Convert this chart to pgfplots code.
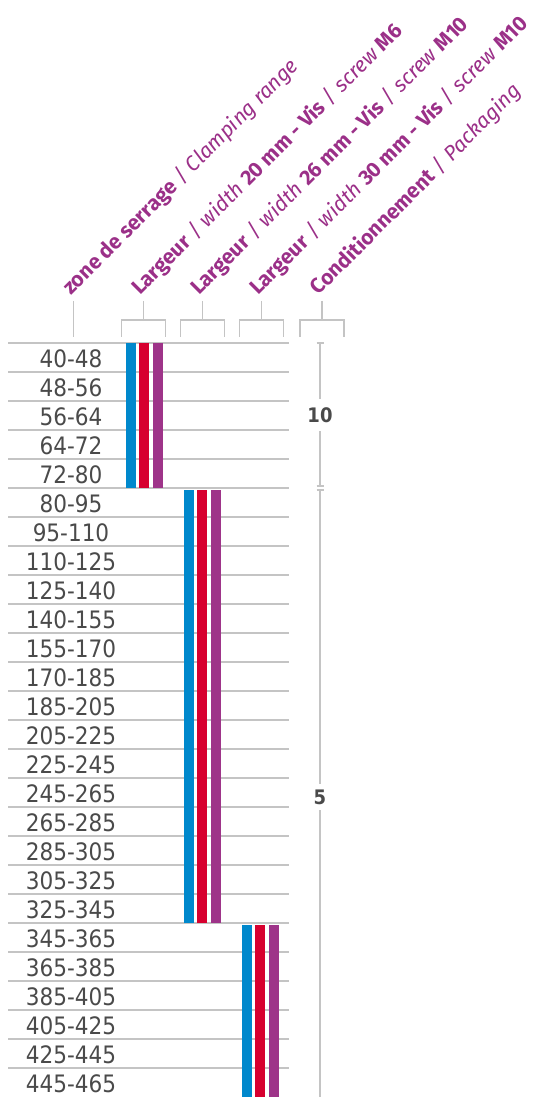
\documentclass[border=0pt]{standalone}
\usepackage{fontspec}
\setmainfont{Fira Sans}
\newfontfamily\numfont{DejaVu Sans Condensed}
\usepackage{pgfplots}
\pgfplotsset{compat=1.18}

\definecolor{hdpurple}{HTML}{9B3088}
\definecolor{sblue}{HTML}{0088CC}
\definecolor{sred}{HTML}{D7002F}
\definecolor{spurple}{HTML}{9E3489}
\definecolor{gridgray}{HTML}{C4C4C4}
\definecolor{numgray}{HTML}{4A4A4A}

\tikzset{
    strip/.style={line width=5pt},
    rule/.style={draw=gridgray, line width=0.65pt},
    head/.style={rotate=45, anchor=base west, inner sep=0pt,
        text=hdpurple, font=\fontsize{10.5}{12}\selectfont},
    pack/.style={fill=white, inner xsep=1pt, text=numgray,
        font=\numfont\bfseries\fontsize{10}{11}\selectfont},
}

% 1 px of the reference = 0.5pt; y in rows (row r starts at px 343+29r)
\begin{document}
\begin{tikzpicture}
\useasboundingbox (0,0) rectangle (269.5pt,548.5pt);
\begin{axis}[
    at={(0,0)}, anchor=south west,
    width=269.5pt, height=548.5pt, scale only axis,
    xmin=0, xmax=539,
    ymin=-11.8276, ymax=26,
    y dir=reverse,
    clip=false,
    axis line style={draw=none},
    major tick style={draw=none},
    xtick=\empty,
    ytick={0.5,1.5,...,25.5},
    yticklabels={40-48,48-56,56-64,64-72,72-80,
        80-95,95-110,110-125,125-140,140-155,155-170,170-185,185-205,
        205-225,225-245,245-265,265-285,285-305,305-325,325-345,
        345-365,365-385,385-405,405-425,425-445,445-465},
    yticklabel style={font=\numfont\fontsize{12}{14}\selectfont,
        text=numgray, anchor=center, inner sep=0pt,
        xshift=35.5pt, yshift=-0.75pt},
]

% row rules
\pgfplotsinvokeforeach{0,...,25}{
    \draw[rule] (axis cs:8,#1) -- (axis cs:289,#1);
}

% width 20 mm : rows 0-5
\addplot[strip, no markers, sblue]   coordinates {(131,0) (131,5)};
\addplot[strip, no markers, sred]    coordinates {(144,0) (144,5)};
\addplot[strip, no markers, spurple] coordinates {(158,0) (158,5)};
% width 26 mm : rows 5-20
\addplot[strip, no markers, sblue]   coordinates {(189,5.069) (189,20)};
\addplot[strip, no markers, sred]    coordinates {(202,5.069) (202,20)};
\addplot[strip, no markers, spurple] coordinates {(216,5.069) (216,20)};
% width 30 mm : rows 20-26
\addplot[strip, no markers, sblue]   coordinates {(247,20.069) (247,26)};
\addplot[strip, no markers, sred]    coordinates {(260,20.069) (260,26)};
\addplot[strip, no markers, spurple] coordinates {(274,20.069) (274,26)};

% packaging brackets
\draw[rule] (axis cs:320,0) -- (axis cs:320,4.931);
\draw[rule] (axis cs:316.5,0) -- (axis cs:323.5,0);
\draw[rule] (axis cs:316.5,4.931) -- (axis cs:323.5,4.931);
\draw[rule] (axis cs:316.5,5.069) -- (axis cs:323.5,5.069);
\draw[rule] (axis cs:320,5.069) -- (axis cs:320,26);
\node[pack, inner ysep=4.2pt] at (axis cs:320,2.483) {10};
\node[pack, inner ysep=3pt] at (axis cs:320,15.655) {5};

% header brackets
\draw[rule] (axis cs:73.7,-1.4483) -- (axis cs:73.7,-0.2069);
\pgfplotsinvokeforeach{143.7,202.5,261.5,322}{
    \draw[rule] (axis cs:#1,-1.4483) -- (axis cs:#1,-0.7931);
    \draw[rule] (axis cs:#1-22,-0.2069) -- (axis cs:#1-22,-0.7931)
        -- (axis cs:#1+22,-0.7931) -- (axis cs:#1+22,-0.2069);
}

% headers
\node[head] at (axis cs:71,-1.6207)
    {\textbf{zone de serrage} / \textit{Clamping range}};
\node[head] at (axis cs:140,-1.6207)
    {\textbf{Largeur} / \textit{width} \textbf{20 mm - Vis} / \textit{screw} \textbf{M6}};
\node[head] at (axis cs:199,-1.6207)
    {\textbf{Largeur} / \textit{width} \textbf{26 mm - Vis} / \textit{screw} \textbf{M10}};
\node[head] at (axis cs:258,-1.6207)
    {\textbf{Largeur} / \textit{width} \textbf{30 mm - Vis} / \textit{screw} \textbf{M10}};
\node[head] at (axis cs:318.5,-1.6207)
    {\textbf{Conditionnement} / \textit{Packaging}};
\end{axis}
\end{tikzpicture}
\end{document}
